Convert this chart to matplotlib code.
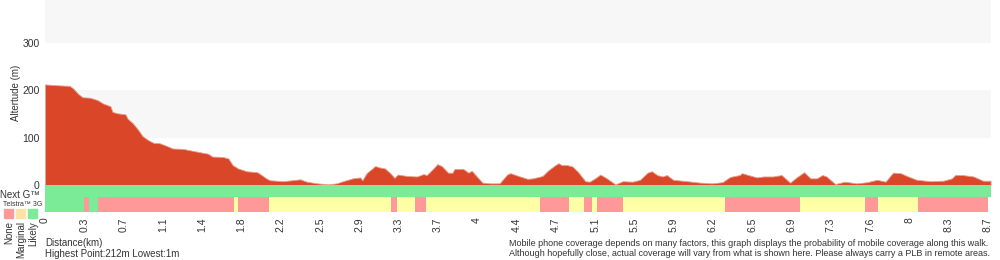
import matplotlib.pyplot as plt

plt.rcParams['font.family'] = ['Liberation Sans', 'DejaVu Sans']

# profilo altimetrico (km, m)
distance_km = [0.00, 0.14, 0.23, 0.26, 0.31, 0.35, 0.42, 0.49, 0.54, 0.61, 0.63, 0.68, 0.75, 0.77,
               0.82, 0.87, 0.91, 0.96, 1.01, 1.07, 1.14, 1.19, 1.29, 1.38, 1.47, 1.52, 1.56, 1.66,
               1.71, 1.75, 1.80, 1.88, 1.98, 2.02, 2.07, 2.10, 2.22, 2.38, 2.44, 2.54, 2.64, 2.72,
               2.78, 2.87, 2.94, 2.96, 3.00, 3.08, 3.12, 3.17, 3.22, 3.26, 3.29, 3.38, 3.47, 3.53,
               3.56, 3.61, 3.66, 3.70, 3.76, 3.80, 3.82, 3.90, 3.95, 3.98, 4.08, 4.15, 4.24, 4.31,
               4.34, 4.43, 4.50, 4.55, 4.64, 4.69, 4.76, 4.79, 4.82, 4.87, 4.92, 4.97, 5.04, 5.08,
               5.13, 5.18, 5.24, 5.32, 5.39, 5.48, 5.55, 5.62, 5.66, 5.71, 5.76, 5.80, 5.86, 5.99,
               6.11, 6.22, 6.32, 6.39, 6.48, 6.50, 6.56, 6.64, 6.70, 6.79, 6.87, 6.95, 7.01, 7.08,
               7.14, 7.20, 7.25, 7.29, 7.37, 7.46, 7.57, 7.67, 7.76, 7.84, 7.91, 7.98, 8.04, 8.13,
               8.26, 8.38, 8.46, 8.49, 8.56, 8.66, 8.75, 8.82]
altitude_m = [212, 210, 209, 204, 192, 185, 184, 179, 172, 166, 154, 151, 149, 140,
              130, 116, 103, 95, 89, 88, 82, 77, 76, 72, 68, 66, 60, 59,
              56, 42, 35, 29, 27, 21, 13, 10, 8, 12, 7, 3.5, 1.4, 3.5,
              8, 14, 16, 10, 25, 40, 37, 35, 25, 15, 22, 19, 18, 23,
              21, 32, 44, 40, 26, 26, 34, 34, 26, 30, 5, 3.5, 3.5, 22,
              25, 18, 13, 14, 19, 30, 42, 46, 42, 42, 39, 28, 8, 7,
              14, 22, 14, 1.4, 8, 7, 11, 26, 29, 21, 18, 21, 11, 8,
              5, 3.5, 6, 17, 21, 25, 21, 16, 18, 18, 21, 5, 16, 27,
              14, 14, 21, 18, 2, 7, 3.5, 6, 11, 7, 26, 25, 19, 11,
              8, 9, 14, 21, 21, 18, 9, 9]

# copertura Telstra 3G: limiti di ogni tratto e livello
coverage_edges = [0, 0.36, 0.41, 0.49, 1.76, 1.80, 2.09, 3.23, 3.28, 3.45, 3.55, 4.62, 4.89,
                  5.03, 5.10, 5.15, 5.39, 6.34, 7.04, 7.65, 7.77, 8.14, 8.80]
coverage_level = ['likely', 'none', 'likely', 'none', 'marginal', 'none', 'marginal', 'none',
                  'marginal', 'none', 'marginal', 'none', 'marginal', 'none', 'marginal', 'none',
                  'marginal', 'none', 'marginal', 'none', 'marginal', 'none']

tick_labels = ['0', '0.3', '0.7', '1.1', '1.4', '1.8', '2.2', '2.5', '2.9', '3.3', '3.7', '4',
               '4.4', '4.7', '5.1', '5.5', '5.9', '6.2', '6.5', '6.9', '7.3', '7.6', '8', '8.3', '8.7']
tick_step = 0.3665
total_km = 8.824

colors = {'none': '#ff9999', 'marginal': '#ffffa6', 'likely': '#7beb97'}
TXT = '#333333'

fig = plt.figure(figsize=(10, 2.6), dpi=100)
W, H = 1000.0, 260.0

# grafico altitudine
ax = fig.add_axes([45 / W, 1 - 185 / H, 946 / W, 185 / H])
ax.axhspan(100, 200, color='#f7f7f7', lw=0)
ax.axhspan(300, 400, color='#f7f7f7', lw=0)
ax.fill_between(distance_km, altitude_m, 0, color='#da4728', lw=0.6, edgecolor='#e9a08f')
ax.set_xlim(0, total_km)
ax.set_ylim(0, 390)
ax.set_yticks([0, 100, 200, 300])
ax.set_xticks([])
ax.tick_params(axis='y', length=0, pad=4, labelsize=7.5, labelcolor=TXT)
ax.set_ylabel('Altertude (m)', fontsize=7, color=TXT, labelpad=1)
for s in ax.spines.values():
    s.set_visible(False)

# barra Next G
axg = fig.add_axes([45 / W, 1 - 197 / H, 946 / W, 12 / H])
axg.axvspan(0, total_km, color=colors['likely'], lw=0)
axg.set_xlim(0, total_km)
axg.axis('off')

# barra 3G
ax3 = fig.add_axes([45 / W, 1 - 212 / H, 946 / W, 15 / H])
for i, lev in enumerate(coverage_level):
    ax3.axvspan(coverage_edges[i], coverage_edges[i + 1], color=colors[lev], lw=0)
ax3.set_xlim(0, total_km)
ax3.set_yticks([])
ax3.set_xticks([i * tick_step for i in range(len(tick_labels))])
ax3.set_xticklabels(tick_labels, rotation=90, va='top', ha='center')
ax3.tick_params(axis='x', length=0, pad=4, labelsize=7.5, labelcolor=TXT)
for s in ax3.spines.values():
    s.set_visible(False)

# etichette a sinistra
fig.text(0 / W, 1 - 194.5 / H, 'Next G™', fontsize=7, color=TXT, va='center', ha='left')
fig.text(3 / W, 1 - 204 / H, 'Telstra™ 3G', fontsize=5, color=TXT, va='center', ha='left')
for x0, key, lab in [(4, 'none', 'None'), (16, 'marginal', 'Marginal'), (28, 'likely', 'Likely')]:
    c = '#ffe2a6' if key == 'marginal' else colors[key]
    fig.patches.append(plt.Rectangle((x0 / W, 1 - 218 / H), 9 / W, 9 / H, color=c,
                                     transform=fig.transFigure, figure=fig))
    fig.text((x0 + 5) / W, 1 - 221 / H, lab, fontsize=7, color=TXT, rotation=90,
             va='top', ha='center')

fig.text(45 / W, 1 - 243 / H, 'Distance(km)', fontsize=7, color=TXT, va='center')
fig.text(45 / W, 1 - 254 / H, 'Highest Point:212m Lowest:1m', fontsize=7, color=TXT, va='center')
fig.text(509 / W, 1 - 243 / H,
         'Mobile phone coverage depends on many factors, this graph displays the probability of mobile coverage along this walk.',
         fontsize=6.5, color=TXT, va='center')
fig.text(509 / W, 1 - 254 / H,
         'Although hopefully close, actual coverage will vary from what is shown here. Please always carry a PLB in remote areas.',
         fontsize=6.5, color=TXT, va='center')

fig.savefig('out.png', dpi=100)
